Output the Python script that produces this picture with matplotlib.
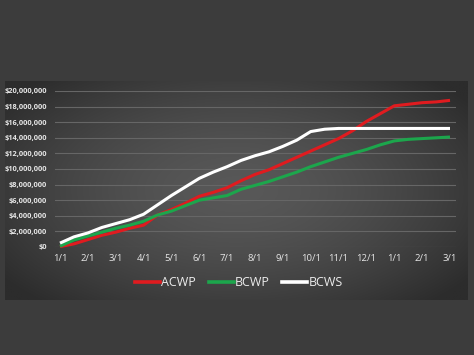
import numpy as np
import matplotlib
matplotlib.use("Agg")
import matplotlib.pyplot as plt
from matplotlib.lines import Line2D

# ---- data (values in $ millions, semi-monthly points) ----
month_labels = ["1/1", "2/1", "3/1", "4/1", "5/1", "6/1", "7/1", "8/1",
                "9/1", "10/1", "11/1", "12/1", "1/1", "2/1", "3/1"]
acwp = [0.05, 0.4, 0.95, 1.5, 1.9, 2.4, 2.8, 4.1, 4.8, 5.6, 6.5, 7.0, 7.6, 8.5, 9.3,
        9.9, 10.7, 11.5, 12.3, 13.1, 13.9, 14.9, 16.1, 17.1, 18.1, 18.3, 18.5, 18.6, 18.8]
bcwp = [0.1, 0.9, 1.4, 1.9, 2.4, 2.8, 3.3, 4.1, 4.6, 5.3, 6.0, 6.3, 6.6, 7.4, 7.9,
        8.4, 9.0, 9.6, 10.3, 10.9, 11.5, 12.0, 12.5, 13.1, 13.6, 13.8, 13.9, 14.0, 14.1]
bcws = [0.5, 1.3, 1.8, 2.5, 3.0, 3.5, 4.2, 5.4, 6.6, 7.7, 8.8, 9.6, 10.3, 11.1, 11.7,
        12.2, 12.9, 13.7, 14.8, 15.1, 15.2, 15.2, 15.2, 15.2, 15.2, 15.2, 15.2, 15.2, 15.2]
series_names = ["ACWP", "BCWP", "BCWS"]
series_colors = ["#e01b1f", "#1ca64c", "#ffffff"]
y_ticks = list(range(0, 21, 2))

W, H = 474, 355
fig = plt.figure(figsize=(W / 100, H / 100), dpi=100, facecolor="#3c3c3c")

# background panel with radial gradient
bg = fig.add_axes([0, 0, 1, 1])
bg.axis("off")
px0, px1, py0, py1 = 5, 468, 81, 300
gx, gy = np.meshgrid(np.linspace(-1, 1, 400), np.linspace(-1, 1, 200))
r = np.sqrt((gx * 1.0) ** 2 + (gy * 0.9) ** 2)
r = np.clip(r, 0, 1.25) / 1.25
c_in = np.array([0x58, 0x58, 0x58]) / 255
c_out = np.array([0x2c, 0x2c, 0x2c]) / 255
img = c_in[None, None, :] * (1 - r[..., None] ** 1.6) + c_out[None, None, :] * (r[..., None] ** 1.6)
bg.imshow(img, extent=[px0, px1, py1, py0], aspect="auto", interpolation="bilinear")
bg.set_xlim(0, W)
bg.set_ylim(H, 0)

# main axes
x_left, x_right = 55, 456
y_zero, y_top = 247, 91
m_per_px = 14 / (450 - 60)
xmin = 0 - (60 - x_left) * m_per_px
xmax = 14 + (x_right - 450) * m_per_px
ax = fig.add_axes([x_left / W, (H - y_zero) / H, (x_right - x_left) / W, (y_zero - y_top) / H])
ax.patch.set_alpha(0)
ax.set_xlim(xmin, xmax)
ax.set_ylim(0, 20)

xs = np.arange(len(acwp)) * 0.5
for name, vals, col in zip(series_names, [acwp, bcwp, bcws], series_colors):
    ax.plot(xs, vals, color=col, lw=2.2, solid_capstyle="butt", clip_on=False, zorder=3)

ax.set_yticks(y_ticks)
ax.set_yticklabels(["$0" if v == 0 else "${:,}".format(v * 1000000) for v in y_ticks],
                   fontsize=5.3, color="#e6e6e6", fontweight="bold", family="Open Sans")
ax.set_xticks(np.arange(len(month_labels)))
ax.set_xticklabels(month_labels, fontsize=6.8, color="#e6e6e6", family="Open Sans")
ax.tick_params(axis="both", length=0)
ax.tick_params(axis="y", pad=6)
ax.tick_params(axis="x", pad=5)
ax.grid(axis="y", color="#666666", lw=0.8)
ax.set_axisbelow(True)
for s in ax.spines.values():
    s.set_visible(False)

handles = [Line2D([0], [0], color=c, lw=2.6) for c in series_colors]
leg = fig.legend(handles, series_names, loc="center", bbox_to_anchor=(239 / W, 1 - 283 / H),
                 ncol=3, frameon=False, handlelength=2.0, handletextpad=0.1,
                 columnspacing=1.0, prop={"family": "Open Sans", "size": 9})
for t in leg.get_texts():
    t.set_color("#ececec")

fig.savefig("out.png", dpi=100, facecolor=fig.get_facecolor())
